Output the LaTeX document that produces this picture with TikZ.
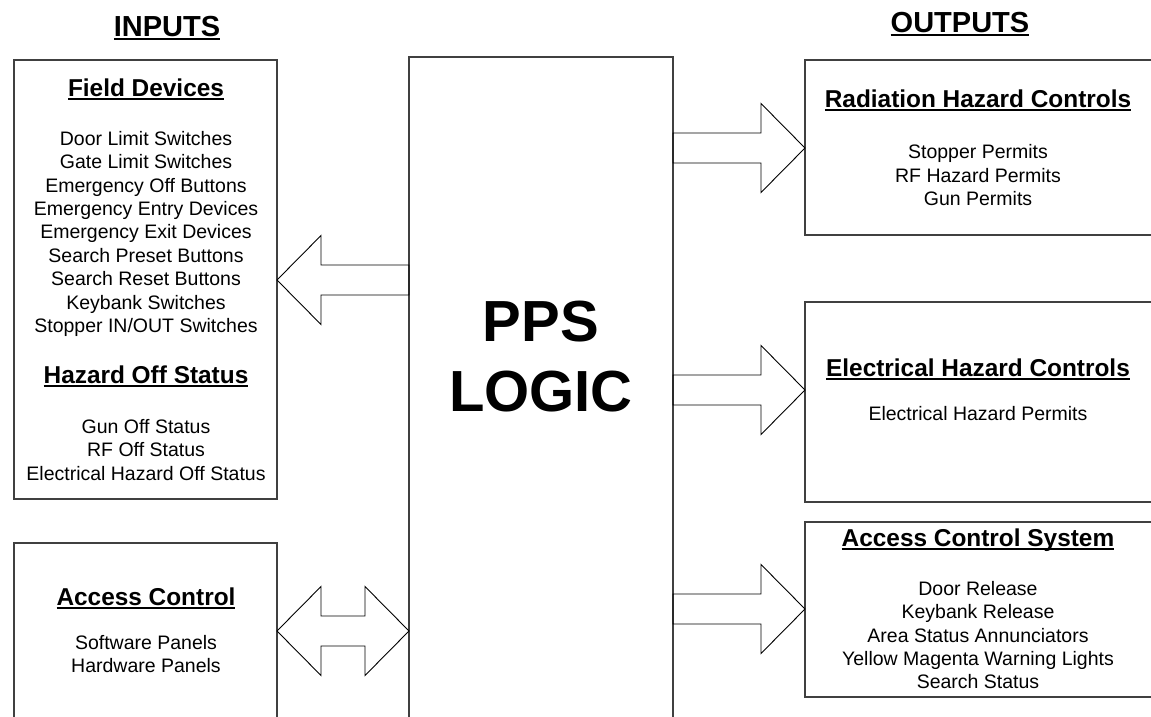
\documentclass[tikz,border=0pt]{standalone}
\usepackage{fontspec}
\setmainfont{Liberation Sans}
\usetikzlibrary{calc}
\newcommand\ulx[1]{\setbox0\hbox{#1}\rlap{\rule[-3.5pt]{\wd0}{2pt}}\box0}
\tikzset{
  box/.style={draw=black!75, line width=1.4pt, inner sep=0pt, outer sep=0pt, anchor=north west},
  blk/.style={draw=black, line width=0.9pt, line join=miter},
  ttl/.style={font=\fontsize{24.4}{29}\selectfont\bfseries, inner sep=0pt, anchor=base},
  body/.style={font=\fontsize{19.5}{23.4}\selectfont, align=center, inner sep=0pt, anchor=north},
  head/.style={font=\fontsize{29}{34}\selectfont\bfseries, inner sep=0pt, anchor=base},
}
\begin{document}
\begin{tikzpicture}[x=1pt,y=-1pt]
\useasboundingbox (0,0) rectangle (1151,717);
\clip (0,0) rectangle (1151,717);
% headings
\node[head] (hin) at (167,37) {\ulx{INPUTS}};
\node[head] (hout) at (960,32.4) {\ulx{OUTPUTS}};
% boxes
\node[box, minimum width=263pt, minimum height=439pt] (fd) at (14,60) {};
\node[box, minimum width=263pt, minimum height=200pt] (ac) at (14,543) {};
\node[box, minimum width=264pt, minimum height=680pt] (logic) at (409,57) {};
\node[box, minimum width=360pt, minimum height=175pt] (rh) at (805,60) {};
\node[box, minimum width=360pt, minimum height=200pt] (eh) at (805,302) {};
\node[box, minimum width=360pt, minimum height=175pt] (acs) at (805,522) {};
% left top texts
\node[ttl] (fdt) at (146,96.7) {\ulx{Field Devices}};
\node[body] (fdb) at (146,131) {Door Limit Switches\\Gate Limit Switches\\Emergency Off Buttons\\Emergency Entry Devices\\Emergency Exit Devices\\Search Preset Buttons\\Search Reset Buttons\\Keybank Switches\\Stopper IN/OUT Switches};
\node[ttl] (hzt) at (146,383.7) {\ulx{Hazard Off Status}};
\node[body] (hzb) at (146,419) {Gun Off Status\\RF Off Status\\Electrical Hazard Off Status};
% left bottom
\node[ttl] (act) at (146,605.7) {\ulx{Access Control}};
\node[body] (acb) at (146,635) {Software Panels\\Hardware Panels};
% center
\node[font=\fontsize{58}{70}\selectfont\bfseries, align=center, inner sep=0pt] (pps) at (541,357) {PPS\\LOGIC};
% right
\node[ttl] (rht) at (978,107.5) {\ulx{Radiation Hazard Controls}};
\node[body] (rhb) at (978,144.5) {Stopper Permits\\RF Hazard Permits\\Gun Permits};
\node[ttl] (eht) at (978,376.7) {\ulx{Electrical Hazard Controls}};
\node[body] (ehb) at (978,406) {Electrical Hazard Permits};
\node[ttl] (acst) at (978,546.7) {\ulx{Access Control System}};
\node[body] (acsb) at (978,581) {Door Release\\Keybank Release\\Area Status Annunciators\\Yellow Magenta Warning Lights\\Search Status};
% arrow rows
\coordinate (yA) at (0,280);
\coordinate (yB) at (0,148);
\coordinate (yC) at (0,390);
\coordinate (yD) at (0,609);
\coordinate (yE) at (0,631);
% left arrow (logic -> field devices)
\draw[blk] (fd.east |- yA) -- ++(44,-44.5) -- ++(0,29.5) -- ($(logic.west |- yA)+(0,-15)$)
  -- ++(0,30) -- ($(fd.east |- yA)+(44,15)$) -- ++(0,29.5) -- cycle;
% right arrows
\draw[blk] (rh.west |- yB) -- ++(-44,-44.5) -- ++(0,29.5) -- ($(logic.east |- yB)+(0,-15)$)
  -- ++(0,30) -- ($(rh.west |- yB)+(-44,15)$) -- ++(0,29.5) -- cycle;
\draw[blk] (eh.west |- yC) -- ++(-44,-44.5) -- ++(0,29.5) -- ($(logic.east |- yC)+(0,-15)$)
  -- ++(0,30) -- ($(eh.west |- yC)+(-44,15)$) -- ++(0,29.5) -- cycle;
\draw[blk] (acs.west |- yD) -- ++(-44,-44.5) -- ++(0,29.5) -- ($(logic.east |- yD)+(0,-15)$)
  -- ++(0,30) -- ($(acs.west |- yD)+(-44,15)$) -- ++(0,29.5) -- cycle;
% double arrow
\draw[blk] (ac.east |- yE) -- ++(44,-44.5) -- ++(0,29.5) -- ($(logic.west |- yE)+(-44,-15)$)
  -- ++(0,-29.5) -- (logic.west |- yE) -- ++(-44,44.5) -- ++(0,-29.5)
  -- ($(ac.east |- yE)+(44,15)$) -- ++(0,29.5) -- cycle;
\end{tikzpicture}
\end{document}
